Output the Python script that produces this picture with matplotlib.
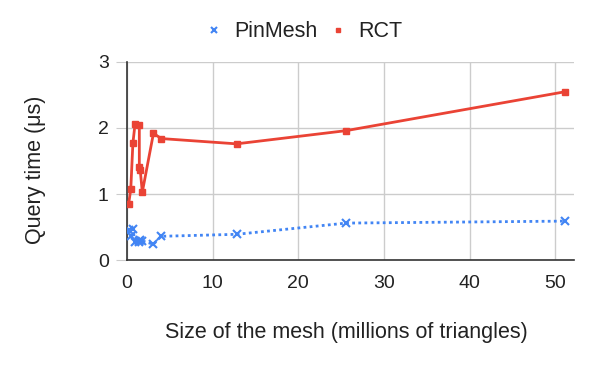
import matplotlib
matplotlib.use("Agg")
import matplotlib.pyplot as plt

plt.rcParams['font.family'] = ['Liberation Sans', 'DejaVu Sans']

mesh_size = [0.2, 0.45, 0.7, 0.95, 1.45, 1.45, 1.55, 1.8, 3.1, 4.0, 12.8, 25.6, 51.2]
pinmesh = [0.45, 0.36, 0.47, 0.27, 0.29, 0.28, 0.30, 0.29, 0.24, 0.36, 0.39, 0.56, 0.59]
rct = [0.85, 1.07, 1.77, 2.06, 2.04, 1.41, 1.37, 1.03, 1.92, 1.84, 1.76, 1.96, 2.55]
x_ticks = [0, 10, 20, 30, 40, 50]
y_ticks = [0, 1, 2, 3]

fig = plt.figure(figsize=(5.93, 3.71), dpi=100)
ax = fig.add_axes([0.214, 0.299, 0.754, 0.534])

ax.plot(mesh_size, pinmesh, color='#4285F4', linestyle=(0, (1, 1.2)), linewidth=2,
        marker='x', markersize=6, markeredgewidth=1.5, label='PinMesh', zorder=3)
ax.plot(mesh_size, rct, color='#EA4335', linestyle='-', linewidth=2,
        marker='s', markersize=3.8, label='RCT', zorder=4)

ax.set_xlim(0, 52.2)
ax.set_ylim(0, 3)
ax.set_xticks(x_ticks)
ax.set_yticks(y_ticks)
ax.grid(True, color='#cccccc', linewidth=1)
ax.set_axisbelow(True)
for s in ['top', 'right']:
    ax.spines[s].set_visible(False)
for s in ['left', 'bottom']:
    ax.spines[s].set_color('#333333')
    ax.spines[s].set_linewidth(1.2)
ax.tick_params(axis='y', length=8, color='#cccccc', labelsize=14, labelcolor='#222222', pad=5)
ax.tick_params(axis='x', length=0, labelsize=14, labelcolor='#222222', pad=11)

ax.set_xlabel('Size of the mesh (millions of triangles)', fontsize=15.5, color='#222222')
ax.set_ylabel('Query time (μs)', fontsize=15.5, color='#222222')
ax.xaxis.set_label_coords(0.49, -0.315)
ax.yaxis.set_label_coords(-0.181, 0.455)

leg = fig.legend(loc='upper center', bbox_to_anchor=(0.515, 0.995), ncol=2, frameon=False,
                 fontsize=15.5, handlelength=0.5, handletextpad=0.7, columnspacing=0.7,
                 labelcolor='#222222', markerscale=0.8)
for h in leg.legend_handles:
    h.set_linestyle('none')

fig.savefig('out.png', dpi=100)
